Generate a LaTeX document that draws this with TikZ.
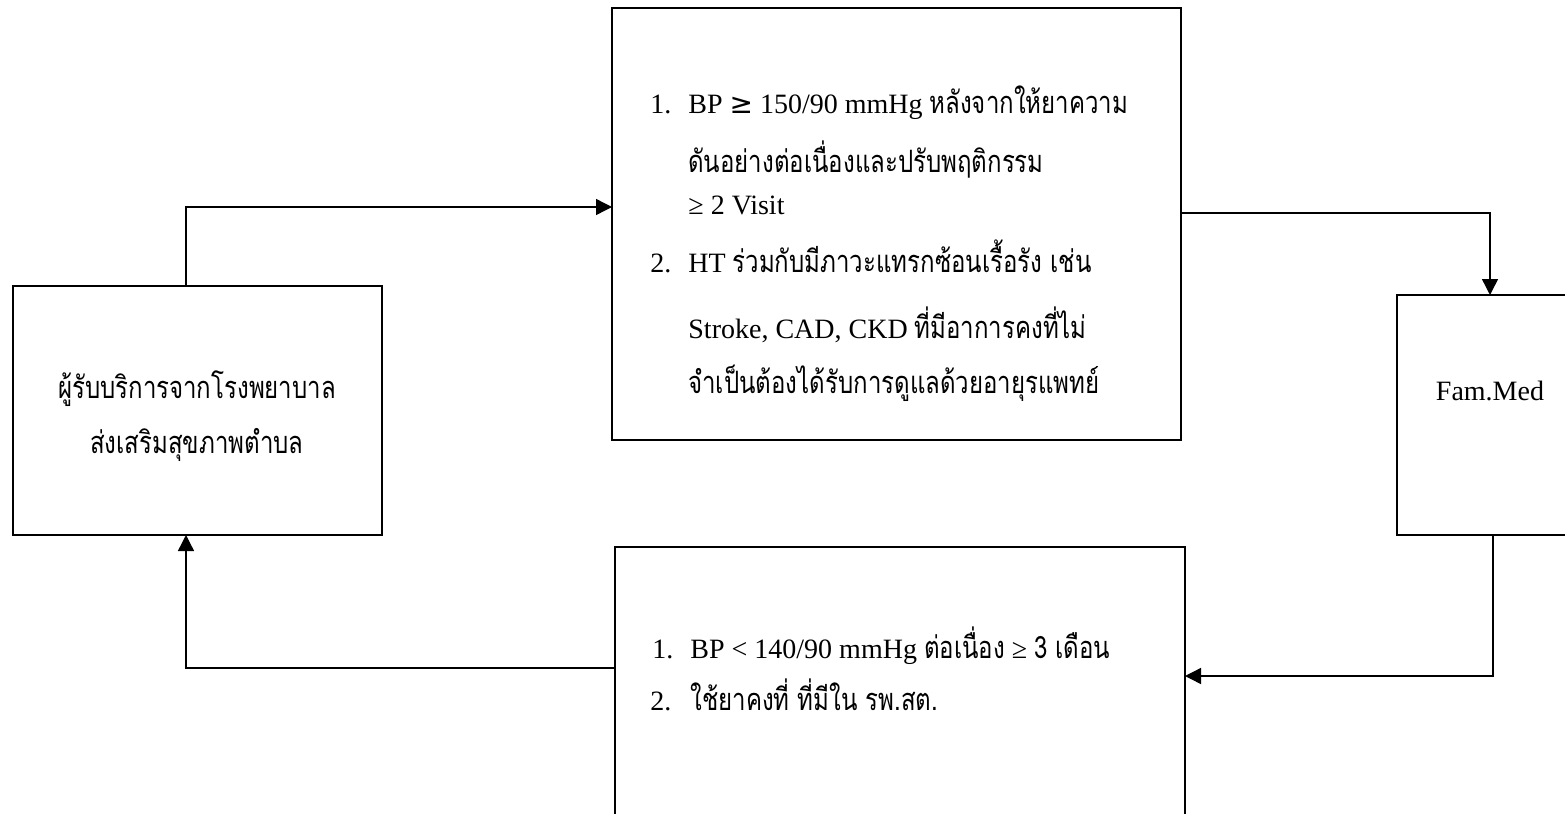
\documentclass[tikz,border=0pt]{standalone}
\usepackage{fontspec}
\setmainfont{Liberation Serif}
\newfontfamily\thaifont[Script=Thai,Scale=1.1,FakeStretch=0.78]{Loma}
\newfontfamily\symfont{DejaVu Sans}
\newcommand\thx[1]{{\thaifont #1}}
\usetikzlibrary{arrows.meta}
\begin{document}
\begin{tikzpicture}[x=0.5pt,y=-0.5pt,
  box/.style={draw, line width=0.7pt, inner sep=0pt, outer sep=0pt},
  conn/.style={line width=0.7pt},
  arr/.style={conn, -{Triangle[length=8pt,width=8pt]}},
  txt/.style={anchor=base west, inner sep=0pt, font=\fontsize{14}{16}\selectfont},
  ctxt/.style={anchor=base, inner sep=0pt, font=\fontsize{14}{16}\selectfont}
]
\clip (0,0) rectangle (1565,814);
\fill[white] (0,0) rectangle (1565,814);

% boxes
\node[box, minimum width=184.5pt, minimum height=124.5pt] (L) at (197.5,410.5) {};
\node[box, minimum width=284.5pt, minimum height=216pt] (T) at (896.5,224) {};
\node[box, minimum width=101.5pt, minimum height=120pt] (F) at (1498.5,415) {};
\node[box, minimum width=285pt, minimum height=151.5pt] (B) at (900,698.5) {};

% left box text
\node[ctxt] (l1) at (197,398) {\thx{ผู้รับบริการจากโรงพยาบาล}};
\node[ctxt] (l2) at (197,453) {\thx{ส่งเสริมสุขภาพตำบล}};

% top box text
\node[txt] (n1) at (650,113) {1.};
\node[txt] (t1) at (688,113) {BP {\symfont ≥} 150/90 mmHg \thx{หลังจากให้ยาความ}};
\node[txt] (t2) at (688,172) {\thx{ดันอย่างต่อเนื่องและปรับพฤติกรรม}};
\node[txt] (t3) at (688,214) {≥ 2 Visit};
\node[txt] (n2) at (650,272) {2.};
\node[txt] (t4) at (688,272) {HT \thx{ร่วมกับมีภาวะแทรกซ้อนเรื้อรัง เช่น}};
\node[txt] (t5) at (688,338) {Stroke, CAD, CKD \thx{ที่มีอาการคงที่ไม่}};
\node[txt] (t6) at (688,393) {\thx{จำเป็นต้องได้รับการดูแลด้วยอายุรแพทย์}};

% fam med
\node[ctxt] (fm) at (1490,400) {Fam.Med};

% bottom box text
\node[txt] (n3) at (652,658) {1.};
\node[txt] (b1) at (690,658) {BP < 140/90 mmHg \thx{ต่อเนื่อง} ≥ \thx{3 เดือน}};
\node[txt] (n4) at (650,710) {2.};
\node[txt] (b2) at (690,710) {\thx{ใช้ยาคงที่ ที่มีใน รพ.สต.}};

% connectors
\coordinate (c1) at (186,207);
\coordinate (c2) at (1490,213);
\coordinate (c3) at (1493,676);
\coordinate (c4) at (186,668);
\draw[arr] (L.north -| c1) |- (T.west |- c1);
\draw[arr] (T.east |- c2) -| (F.north -| c2);
\draw[arr] (F.south -| c3) |- (B.east |- c3);
\draw[arr] (B.west |- c4) -| (L.south -| c4);
\end{tikzpicture}
\end{document}
